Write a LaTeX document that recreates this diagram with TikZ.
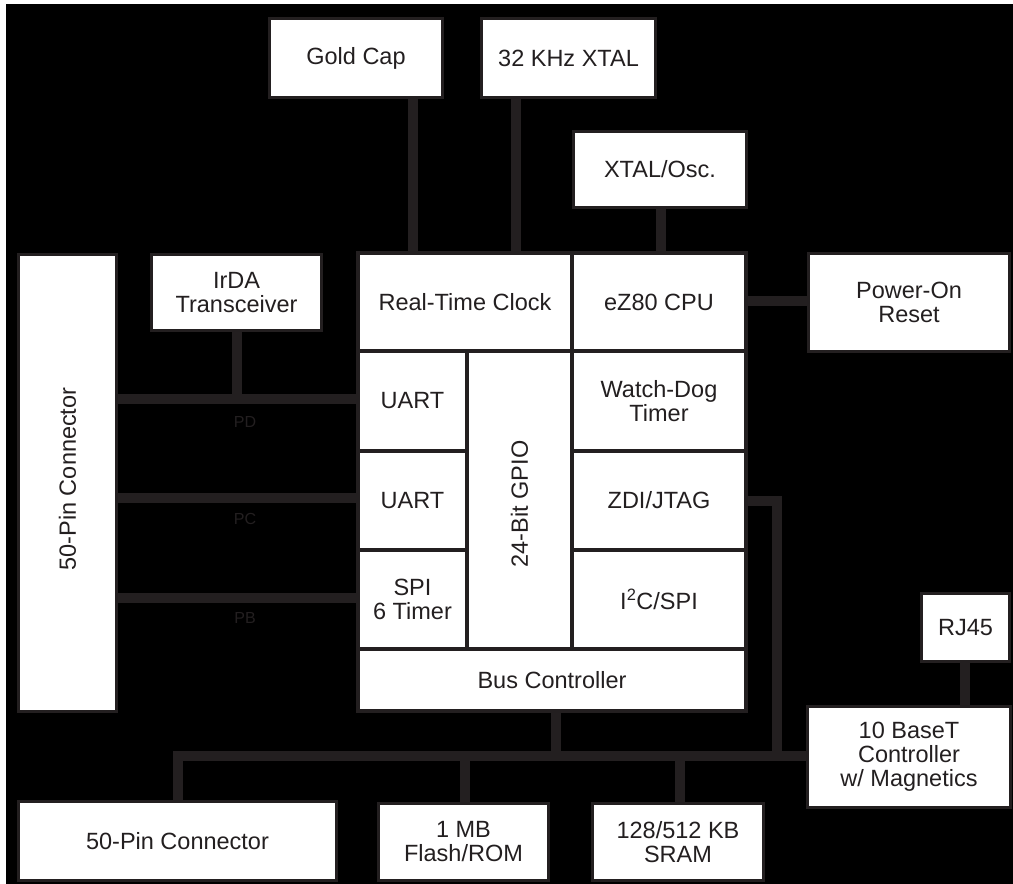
\documentclass[tikz,border=0pt]{standalone}
\usepackage{fontspec}
\setmainfont{Liberation Sans}
\usetikzlibrary{fit,calc}
\definecolor{ink}{RGB}{35,31,32}
\begin{document}
\begin{tikzpicture}[x=1pt,y=-1pt,
  blk/.style={draw=ink, line width=3.5pt, fill=white, inner sep=0pt},
  conn/.style={draw=ink, line width=10pt},
  lbl/.style={text=ink, font=\fontsize{23.5}{24}\selectfont, inner sep=0pt, align=center},
  portlbl/.style={text=ink, font=\fontsize{16}{18}\selectfont, inner sep=0pt}]
\useasboundingbox (0,0) rectangle (1013,884);
\fill[white] (0,0) rectangle (1013,884);
\fill[black] (6,4) rectangle (1013,884);

% helper coordinates for connector positions
\coordinate (xg) at (413,0);
\coordinate (xk) at (515.5,0);
\coordinate (xo) at (661,0);
\coordinate (xi) at (237,0);
\coordinate (xz) at (777,0);
\coordinate (xb) at (556,0);
\coordinate (xp) at (178,0);
\coordinate (xf) at (465,0);
\coordinate (xs) at (680,0);
\coordinate (xr) at (965,0);
\coordinate (ypd) at (0,399);
\coordinate (ypc) at (0,498);
\coordinate (ypb) at (0,598);
\coordinate (ycpu) at (0,301);
\coordinate (yzdi) at (0,500.5);
\coordinate (ybus) at (0,756);

% connectors (drawn first, boxes cover their ends)
\path[conn] (xg |- 0,97) -- (xg |- 0,253);
\path[conn] (xk |- 0,97) -- (xk |- 0,253);
\path[conn] (xo |- 0,207) -- (xo |- 0,253);
\path[conn] (746,0 |- ycpu) -- (808,0 |- ycpu);
\path[conn] (xi |- 0,330) -- (xi |- ypd);
\path[conn] (117,0 |- ypd) -- (358,0 |- ypd);
\path[conn] (117,0 |- ypc) -- (358,0 |- ypc);
\path[conn] (117,0 |- ypb) -- (358,0 |- ypb);
\path[conn] (746,0 |- yzdi) -| (xz |- ybus);
\path[conn] (xb |- 0,711) -- (xb |- ybus);
\path[conn] (xp |- 0,801) |- (808,0 |- ybus);
\path[conn] (xf |- ybus) -- (xf |- 0,803);
\path[conn] (xs |- ybus) -- (xs |- 0,803);
\path[conn] (xr |- 0,661) -- (xr |- 0,707);

% boxes
\node[blk, fit={(269.5,18.5) (442.5,97.5)}] (gold) {};
\node[blk, fit={(481.5,18.5) (655.5,97.5)}] (xtal) {};
\node[blk, fit={(573.5,131.5) (746.5,207.5)}] (osc) {};
\node[blk, fit={(151.5,254.5) (321.5,330.5)}] (irda) {};
\node[blk, fit={(18.5,254.5) (116.5,711.5)}] (pinL) {};
\node[blk, fit={(358,253) (572,351)}] (rtc) {};
\node[blk, fit={(572,253) (746,351)}] (cpu) {};
\node[blk, fit={(358,351) (467,451)}] (uart1) {};
\node[blk, fit={(358,451) (467,550)}] (uart2) {};
\node[blk, fit={(358,550) (467,649)}] (spi) {};
\node[blk, fit={(467,351) (572,649)}] (gpio) {};
\node[blk, fit={(572,351) (746,451)}] (wdt) {};
\node[blk, fit={(572,451) (746,550)}] (zdi) {};
\node[blk, fit={(572,550) (746,649)}] (i2c) {};
\node[blk, fit={(358,649) (746,711)}] (bus) {};
\node[blk, fit={(808.5,253.5) (1009.5,351.5)}] (por) {};
\node[blk, fit={(921.5,593.5) (1009.5,661.5)}] (rj) {};
\node[blk, fit={(807.5,706.5) (1010.5,807.5)}] (eth) {};
\node[blk, fit={(18.5,801.5) (336.5,880.5)}] (pinB) {};
\node[blk, fit={(378.5,803.5) (548.5,880.5)}] (flash) {};
\node[blk, fit={(592.5,803.5) (763.5,880.5)}] (sram) {};

% labels
\node[lbl] (goldt) at (gold.center) {Gold Cap};
\node[lbl] (xtalt) at (xtal.center) {32 KHz XTAL};
\node[lbl] (osct) at (osc.center) {XTAL/Osc.};
\node[lbl] (irdat) at (irda.center) {IrDA\\Transceiver};
\node[lbl, rotate=90] (pinLt) at ($(pinL.center)+(0,-4)$) {50-Pin Connector};
\node[lbl] (rtct) at (rtc.center) {Real-Time Clock};
\node[lbl] (cput) at (cpu.center) {eZ80 CPU};
\node[lbl] (uart1t) at (uart1.center) {UART};
\node[lbl] (uart2t) at (uart2.center) {UART};
\node[lbl] (spit) at (spi.center) {SPI\\6 Timer};
\node[lbl, rotate=90] (gpiot) at ($(gpio.center)+(0,4)$) {24-Bit GPIO};
\node[lbl] (wdtt) at (wdt.center) {Watch-Dog\\Timer};
\node[lbl] (zdit) at (zdi.center) {ZDI/JTAG};
\node[lbl] (i2ct) at (i2c.center) {I\textsuperscript{2}C/SPI};
\node[lbl] (bust) at (bus.center) {Bus Controller};
\node[lbl] (port) at (por.center) {Power-On\\Reset};
\node[lbl] (rjt) at (rj.center) {RJ45};
\node[lbl] (etht) at (eth.center) {10 BaseT\\Controller\\w/ Magnetics};
\node[lbl] (pinBt) at (pinB.center) {50-Pin Connector};
\node[lbl] (flasht) at (flash.center) {1 MB\\Flash/ROM};
\node[lbl] (sramt) at (sram.center) {128/512 KB\\SRAM};

% port labels
\node[portlbl] (pd) at (245,422) {PD};
\node[portlbl] (pc) at (245,519) {PC};
\node[portlbl] (pb) at (245,618) {PB};
\end{tikzpicture}
\end{document}
